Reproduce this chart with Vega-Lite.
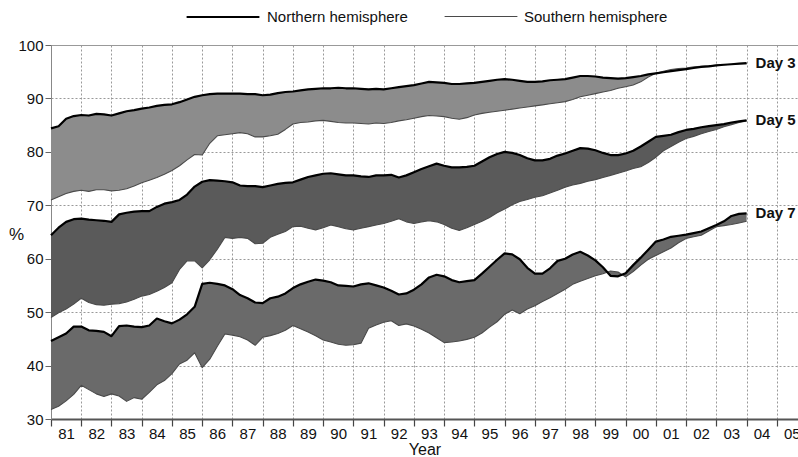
{
"$schema": "https://vega.github.io/schema/vega-lite/v6.json",
"width": 747,
"height": 374,
"autosize": {"type": "none"},
"padding": {"left": 51, "top": 45, "right": 0, "bottom": 38},
"background": "white",
"config": {"font": "Liberation Sans", "view": {"stroke": "#999", "strokeWidth": 1},
  "axisY": {"tickCount": 7, "labelFontSize": 15, "labelColor": "#111", "labelPadding": 2,
    "tickSize": 6, "tickColor": "#666", "domainColor": "#888", "domainWidth": 1,
    "grid": true, "gridColor": "#999", "gridDash": [2, 2], "gridWidth": 1,
    "titleAngle": 0, "titleAlign": "center", "titleBaseline": "middle", "titleX": -35, "titleY": 189,
    "titleFontSize": 17, "titleFontWeight": "normal", "titleColor": "#111"}},
"data": {"values": [
{"day":"Day 3","t":1981.0,"nh":84.4,"sh":71.0},{"day":"Day 3","t":1981.25,"nh":84.8,"sh":71.6},{"day":"Day 3","t":1981.5,"nh":86.2,"sh":72.2},{"day":"Day 3","t":1981.75,"nh":86.7,"sh":72.6},
{"day":"Day 3","t":1982.0,"nh":86.9,"sh":72.8},{"day":"Day 3","t":1982.25,"nh":86.8,"sh":72.6},{"day":"Day 3","t":1982.5,"nh":87.1,"sh":72.9},{"day":"Day 3","t":1982.75,"nh":87.0,"sh":72.9},
{"day":"Day 3","t":1983.0,"nh":86.8,"sh":72.7},{"day":"Day 3","t":1983.25,"nh":87.2,"sh":72.8},{"day":"Day 3","t":1983.5,"nh":87.6,"sh":73.1},{"day":"Day 3","t":1983.75,"nh":87.8,"sh":73.6},
{"day":"Day 3","t":1984.0,"nh":88.1,"sh":74.2},{"day":"Day 3","t":1984.25,"nh":88.3,"sh":74.7},{"day":"Day 3","t":1984.5,"nh":88.6,"sh":75.2},{"day":"Day 3","t":1984.75,"nh":88.8,"sh":75.8},
{"day":"Day 3","t":1985.0,"nh":88.9,"sh":76.5},{"day":"Day 3","t":1985.25,"nh":89.3,"sh":77.4},{"day":"Day 3","t":1985.5,"nh":89.8,"sh":78.5},{"day":"Day 3","t":1985.75,"nh":90.3,"sh":79.5},
{"day":"Day 3","t":1986.0,"nh":90.6,"sh":79.4},{"day":"Day 3","t":1986.25,"nh":90.8,"sh":81.6},{"day":"Day 3","t":1986.5,"nh":90.9,"sh":83.0},{"day":"Day 3","t":1986.75,"nh":90.9,"sh":83.2},
{"day":"Day 3","t":1987.0,"nh":90.9,"sh":83.4},{"day":"Day 3","t":1987.25,"nh":90.9,"sh":83.6},{"day":"Day 3","t":1987.5,"nh":90.8,"sh":83.4},{"day":"Day 3","t":1987.75,"nh":90.8,"sh":82.8},
{"day":"Day 3","t":1988.0,"nh":90.6,"sh":82.8},{"day":"Day 3","t":1988.25,"nh":90.7,"sh":83.0},{"day":"Day 3","t":1988.5,"nh":91.0,"sh":83.3},{"day":"Day 3","t":1988.75,"nh":91.2,"sh":84.2},
{"day":"Day 3","t":1989.0,"nh":91.3,"sh":85.2},{"day":"Day 3","t":1989.25,"nh":91.5,"sh":85.5},{"day":"Day 3","t":1989.5,"nh":91.7,"sh":85.6},{"day":"Day 3","t":1989.75,"nh":91.8,"sh":85.8},
{"day":"Day 3","t":1990.0,"nh":91.9,"sh":85.9},{"day":"Day 3","t":1990.25,"nh":91.9,"sh":85.7},{"day":"Day 3","t":1990.5,"nh":92.0,"sh":85.5},{"day":"Day 3","t":1990.75,"nh":91.9,"sh":85.4},
{"day":"Day 3","t":1991.0,"nh":91.9,"sh":85.4},{"day":"Day 3","t":1991.25,"nh":91.8,"sh":85.3},{"day":"Day 3","t":1991.5,"nh":91.7,"sh":85.2},{"day":"Day 3","t":1991.75,"nh":91.8,"sh":85.4},
{"day":"Day 3","t":1992.0,"nh":91.7,"sh":85.3},{"day":"Day 3","t":1992.25,"nh":91.9,"sh":85.5},{"day":"Day 3","t":1992.5,"nh":92.1,"sh":85.8},{"day":"Day 3","t":1992.75,"nh":92.3,"sh":86.0},
{"day":"Day 3","t":1993.0,"nh":92.5,"sh":86.3},{"day":"Day 3","t":1993.25,"nh":92.8,"sh":86.6},{"day":"Day 3","t":1993.5,"nh":93.1,"sh":86.8},{"day":"Day 3","t":1993.75,"nh":93.0,"sh":86.7},
{"day":"Day 3","t":1994.0,"nh":92.9,"sh":86.6},{"day":"Day 3","t":1994.25,"nh":92.7,"sh":86.3},{"day":"Day 3","t":1994.5,"nh":92.7,"sh":86.1},{"day":"Day 3","t":1994.75,"nh":92.8,"sh":86.4},
{"day":"Day 3","t":1995.0,"nh":92.9,"sh":86.9},{"day":"Day 3","t":1995.25,"nh":93.1,"sh":87.2},{"day":"Day 3","t":1995.5,"nh":93.3,"sh":87.4},{"day":"Day 3","t":1995.75,"nh":93.5,"sh":87.6},
{"day":"Day 3","t":1996.0,"nh":93.6,"sh":87.8},{"day":"Day 3","t":1996.25,"nh":93.5,"sh":88.0},{"day":"Day 3","t":1996.5,"nh":93.3,"sh":88.2},{"day":"Day 3","t":1996.75,"nh":93.1,"sh":88.4},
{"day":"Day 3","t":1997.0,"nh":93.1,"sh":88.6},{"day":"Day 3","t":1997.25,"nh":93.2,"sh":88.8},{"day":"Day 3","t":1997.5,"nh":93.4,"sh":89.0},{"day":"Day 3","t":1997.75,"nh":93.5,"sh":89.2},
{"day":"Day 3","t":1998.0,"nh":93.6,"sh":89.4},{"day":"Day 3","t":1998.25,"nh":93.9,"sh":89.8},{"day":"Day 3","t":1998.5,"nh":94.2,"sh":90.3},{"day":"Day 3","t":1998.75,"nh":94.2,"sh":90.6},
{"day":"Day 3","t":1999.0,"nh":94.1,"sh":90.9},{"day":"Day 3","t":1999.25,"nh":93.9,"sh":91.2},{"day":"Day 3","t":1999.5,"nh":93.8,"sh":91.5},{"day":"Day 3","t":1999.75,"nh":93.7,"sh":91.9},
{"day":"Day 3","t":2000.0,"nh":93.8,"sh":92.2},{"day":"Day 3","t":2000.25,"nh":94.0,"sh":92.5},{"day":"Day 3","t":2000.5,"nh":94.2,"sh":93.1},{"day":"Day 3","t":2000.75,"nh":94.5,"sh":94.0},
{"day":"Day 3","t":2001.0,"nh":94.7,"sh":94.7},{"day":"Day 3","t":2001.25,"nh":94.9,"sh":95.1},{"day":"Day 3","t":2001.5,"nh":95.1,"sh":95.4},{"day":"Day 3","t":2001.75,"nh":95.3,"sh":95.6},
{"day":"Day 3","t":2002.0,"nh":95.5,"sh":95.7},{"day":"Day 3","t":2002.25,"nh":95.7,"sh":95.9},{"day":"Day 3","t":2002.5,"nh":95.9,"sh":96.0},{"day":"Day 3","t":2002.75,"nh":96.0,"sh":96.1},
{"day":"Day 3","t":2003.0,"nh":96.2,"sh":96.2},{"day":"Day 3","t":2003.25,"nh":96.3,"sh":96.3},{"day":"Day 3","t":2003.5,"nh":96.4,"sh":96.4},{"day":"Day 3","t":2003.75,"nh":96.5,"sh":96.5},
{"day":"Day 3","t":2004.0,"nh":96.6,"sh":96.5},
{"day":"Day 5","t":1981.0,"nh":64.4,"sh":49.0},{"day":"Day 5","t":1981.25,"nh":65.8,"sh":49.9},{"day":"Day 5","t":1981.5,"nh":66.9,"sh":50.6},{"day":"Day 5","t":1981.75,"nh":67.4,"sh":51.5},
{"day":"Day 5","t":1982.0,"nh":67.5,"sh":52.6},{"day":"Day 5","t":1982.25,"nh":67.3,"sh":51.8},{"day":"Day 5","t":1982.5,"nh":67.2,"sh":51.4},{"day":"Day 5","t":1982.75,"nh":67.1,"sh":51.3},
{"day":"Day 5","t":1983.0,"nh":66.9,"sh":51.5},{"day":"Day 5","t":1983.25,"nh":68.3,"sh":51.6},{"day":"Day 5","t":1983.5,"nh":68.6,"sh":51.9},{"day":"Day 5","t":1983.75,"nh":68.8,"sh":52.4},
{"day":"Day 5","t":1984.0,"nh":68.9,"sh":53.0},{"day":"Day 5","t":1984.25,"nh":68.9,"sh":53.3},{"day":"Day 5","t":1984.5,"nh":69.7,"sh":53.9},{"day":"Day 5","t":1984.75,"nh":70.3,"sh":54.6},
{"day":"Day 5","t":1985.0,"nh":70.6,"sh":55.5},{"day":"Day 5","t":1985.25,"nh":71.0,"sh":58.0},{"day":"Day 5","t":1985.5,"nh":72.0,"sh":59.6},{"day":"Day 5","t":1985.75,"nh":73.5,"sh":59.6},
{"day":"Day 5","t":1986.0,"nh":74.4,"sh":58.3},{"day":"Day 5","t":1986.25,"nh":74.7,"sh":59.8},{"day":"Day 5","t":1986.5,"nh":74.6,"sh":61.8},{"day":"Day 5","t":1986.75,"nh":74.5,"sh":64.0},
{"day":"Day 5","t":1987.0,"nh":74.3,"sh":63.8},{"day":"Day 5","t":1987.25,"nh":73.7,"sh":64.0},{"day":"Day 5","t":1987.5,"nh":73.6,"sh":63.8},{"day":"Day 5","t":1987.75,"nh":73.6,"sh":62.8},
{"day":"Day 5","t":1988.0,"nh":73.4,"sh":62.9},{"day":"Day 5","t":1988.25,"nh":73.7,"sh":64.0},{"day":"Day 5","t":1988.5,"nh":74.0,"sh":64.6},{"day":"Day 5","t":1988.75,"nh":74.2,"sh":65.1},
{"day":"Day 5","t":1989.0,"nh":74.3,"sh":66.0},{"day":"Day 5","t":1989.25,"nh":74.8,"sh":66.1},{"day":"Day 5","t":1989.5,"nh":75.3,"sh":65.7},{"day":"Day 5","t":1989.75,"nh":75.6,"sh":65.4},
{"day":"Day 5","t":1990.0,"nh":75.9,"sh":65.8},{"day":"Day 5","t":1990.25,"nh":76.0,"sh":66.3},{"day":"Day 5","t":1990.5,"nh":75.8,"sh":66.0},{"day":"Day 5","t":1990.75,"nh":75.6,"sh":65.6},
{"day":"Day 5","t":1991.0,"nh":75.6,"sh":65.4},{"day":"Day 5","t":1991.25,"nh":75.4,"sh":65.7},{"day":"Day 5","t":1991.5,"nh":75.3,"sh":66.0},{"day":"Day 5","t":1991.75,"nh":75.6,"sh":66.3},
{"day":"Day 5","t":1992.0,"nh":75.6,"sh":66.6},{"day":"Day 5","t":1992.25,"nh":75.7,"sh":67.0},{"day":"Day 5","t":1992.5,"nh":75.2,"sh":67.5},{"day":"Day 5","t":1992.75,"nh":75.6,"sh":66.9},
{"day":"Day 5","t":1993.0,"nh":76.2,"sh":66.6},{"day":"Day 5","t":1993.25,"nh":76.8,"sh":66.9},{"day":"Day 5","t":1993.5,"nh":77.3,"sh":67.1},{"day":"Day 5","t":1993.75,"nh":77.8,"sh":66.9},
{"day":"Day 5","t":1994.0,"nh":77.4,"sh":66.4},{"day":"Day 5","t":1994.25,"nh":77.1,"sh":65.7},{"day":"Day 5","t":1994.5,"nh":77.1,"sh":65.3},{"day":"Day 5","t":1994.75,"nh":77.2,"sh":65.8},
{"day":"Day 5","t":1995.0,"nh":77.4,"sh":66.4},{"day":"Day 5","t":1995.25,"nh":78.2,"sh":67.0},{"day":"Day 5","t":1995.5,"nh":79.0,"sh":67.7},{"day":"Day 5","t":1995.75,"nh":79.6,"sh":68.6},
{"day":"Day 5","t":1996.0,"nh":80.0,"sh":69.3},{"day":"Day 5","t":1996.25,"nh":79.8,"sh":70.1},{"day":"Day 5","t":1996.5,"nh":79.4,"sh":70.7},{"day":"Day 5","t":1996.75,"nh":78.8,"sh":71.1},
{"day":"Day 5","t":1997.0,"nh":78.4,"sh":71.5},{"day":"Day 5","t":1997.25,"nh":78.4,"sh":71.8},{"day":"Day 5","t":1997.5,"nh":78.7,"sh":72.3},{"day":"Day 5","t":1997.75,"nh":79.3,"sh":72.8},
{"day":"Day 5","t":1998.0,"nh":79.7,"sh":73.4},{"day":"Day 5","t":1998.25,"nh":80.2,"sh":73.8},{"day":"Day 5","t":1998.5,"nh":80.7,"sh":74.1},{"day":"Day 5","t":1998.75,"nh":80.6,"sh":74.5},
{"day":"Day 5","t":1999.0,"nh":80.3,"sh":74.8},{"day":"Day 5","t":1999.25,"nh":79.8,"sh":75.2},{"day":"Day 5","t":1999.5,"nh":79.4,"sh":75.6},{"day":"Day 5","t":1999.75,"nh":79.4,"sh":76.0},
{"day":"Day 5","t":2000.0,"nh":79.7,"sh":76.4},{"day":"Day 5","t":2000.25,"nh":80.2,"sh":76.9},{"day":"Day 5","t":2000.5,"nh":81.0,"sh":77.2},{"day":"Day 5","t":2000.75,"nh":81.9,"sh":78.0},
{"day":"Day 5","t":2001.0,"nh":82.8,"sh":79.0},{"day":"Day 5","t":2001.25,"nh":83.0,"sh":80.2},{"day":"Day 5","t":2001.5,"nh":83.2,"sh":81.0},{"day":"Day 5","t":2001.75,"nh":83.7,"sh":81.8},
{"day":"Day 5","t":2002.0,"nh":84.1,"sh":82.5},{"day":"Day 5","t":2002.25,"nh":84.3,"sh":82.9},{"day":"Day 5","t":2002.5,"nh":84.6,"sh":83.4},{"day":"Day 5","t":2002.75,"nh":84.8,"sh":83.8},
{"day":"Day 5","t":2003.0,"nh":85.0,"sh":84.2},{"day":"Day 5","t":2003.25,"nh":85.2,"sh":84.7},{"day":"Day 5","t":2003.5,"nh":85.5,"sh":85.1},{"day":"Day 5","t":2003.75,"nh":85.7,"sh":85.5},
{"day":"Day 5","t":2004.0,"nh":85.9,"sh":85.8},
{"day":"Day 7","t":1981.0,"nh":44.6,"sh":31.8},{"day":"Day 7","t":1981.25,"nh":45.3,"sh":32.4},{"day":"Day 7","t":1981.5,"nh":46.0,"sh":33.4},{"day":"Day 7","t":1981.75,"nh":47.3,"sh":34.6},
{"day":"Day 7","t":1982.0,"nh":47.3,"sh":36.3},{"day":"Day 7","t":1982.25,"nh":46.6,"sh":35.5},{"day":"Day 7","t":1982.5,"nh":46.5,"sh":34.7},{"day":"Day 7","t":1982.75,"nh":46.3,"sh":34.2},
{"day":"Day 7","t":1983.0,"nh":45.5,"sh":34.7},{"day":"Day 7","t":1983.25,"nh":47.4,"sh":34.3},{"day":"Day 7","t":1983.5,"nh":47.5,"sh":33.3},{"day":"Day 7","t":1983.75,"nh":47.3,"sh":34.0},
{"day":"Day 7","t":1984.0,"nh":47.2,"sh":33.7},{"day":"Day 7","t":1984.25,"nh":47.5,"sh":35.0},{"day":"Day 7","t":1984.5,"nh":48.8,"sh":36.4},{"day":"Day 7","t":1984.75,"nh":48.3,"sh":37.2},
{"day":"Day 7","t":1985.0,"nh":47.9,"sh":38.5},{"day":"Day 7","t":1985.25,"nh":48.6,"sh":40.3},{"day":"Day 7","t":1985.5,"nh":49.6,"sh":41.0},{"day":"Day 7","t":1985.75,"nh":51.0,"sh":42.4},
{"day":"Day 7","t":1986.0,"nh":55.3,"sh":39.6},{"day":"Day 7","t":1986.25,"nh":55.5,"sh":41.2},{"day":"Day 7","t":1986.5,"nh":55.3,"sh":43.6},{"day":"Day 7","t":1986.75,"nh":55.0,"sh":45.9},
{"day":"Day 7","t":1987.0,"nh":54.3,"sh":45.7},{"day":"Day 7","t":1987.25,"nh":53.2,"sh":45.4},{"day":"Day 7","t":1987.5,"nh":52.6,"sh":44.8},{"day":"Day 7","t":1987.75,"nh":51.8,"sh":43.8},
{"day":"Day 7","t":1988.0,"nh":51.7,"sh":45.3},{"day":"Day 7","t":1988.25,"nh":52.6,"sh":45.6},{"day":"Day 7","t":1988.5,"nh":52.9,"sh":46.0},{"day":"Day 7","t":1988.75,"nh":53.5,"sh":46.6},
{"day":"Day 7","t":1989.0,"nh":54.5,"sh":47.5},{"day":"Day 7","t":1989.25,"nh":55.2,"sh":46.9},{"day":"Day 7","t":1989.5,"nh":55.7,"sh":46.3},{"day":"Day 7","t":1989.75,"nh":56.1,"sh":45.6},
{"day":"Day 7","t":1990.0,"nh":55.9,"sh":44.8},{"day":"Day 7","t":1990.25,"nh":55.6,"sh":44.4},{"day":"Day 7","t":1990.5,"nh":55.0,"sh":44.0},{"day":"Day 7","t":1990.75,"nh":54.9,"sh":43.8},
{"day":"Day 7","t":1991.0,"nh":54.8,"sh":43.9},{"day":"Day 7","t":1991.25,"nh":55.2,"sh":44.2},{"day":"Day 7","t":1991.5,"nh":55.4,"sh":47.0},{"day":"Day 7","t":1991.75,"nh":55.0,"sh":47.6},
{"day":"Day 7","t":1992.0,"nh":54.6,"sh":48.1},{"day":"Day 7","t":1992.25,"nh":54.0,"sh":48.4},{"day":"Day 7","t":1992.5,"nh":53.3,"sh":47.5},{"day":"Day 7","t":1992.75,"nh":53.5,"sh":47.8},
{"day":"Day 7","t":1993.0,"nh":54.2,"sh":47.4},{"day":"Day 7","t":1993.25,"nh":55.2,"sh":46.8},{"day":"Day 7","t":1993.5,"nh":56.5,"sh":46.1},{"day":"Day 7","t":1993.75,"nh":57.0,"sh":45.2},
{"day":"Day 7","t":1994.0,"nh":56.7,"sh":44.3},{"day":"Day 7","t":1994.25,"nh":56.0,"sh":44.4},{"day":"Day 7","t":1994.5,"nh":55.6,"sh":44.6},{"day":"Day 7","t":1994.75,"nh":55.8,"sh":44.9},
{"day":"Day 7","t":1995.0,"nh":56.0,"sh":45.3},{"day":"Day 7","t":1995.25,"nh":57.2,"sh":46.1},{"day":"Day 7","t":1995.5,"nh":58.5,"sh":47.2},{"day":"Day 7","t":1995.75,"nh":59.8,"sh":48.2},
{"day":"Day 7","t":1996.0,"nh":61.0,"sh":49.6},{"day":"Day 7","t":1996.25,"nh":60.8,"sh":50.4},{"day":"Day 7","t":1996.5,"nh":59.9,"sh":49.7},{"day":"Day 7","t":1996.75,"nh":58.3,"sh":50.6},
{"day":"Day 7","t":1997.0,"nh":57.2,"sh":51.2},{"day":"Day 7","t":1997.25,"nh":57.2,"sh":52.0},{"day":"Day 7","t":1997.5,"nh":58.2,"sh":52.7},{"day":"Day 7","t":1997.75,"nh":59.6,"sh":53.5},
{"day":"Day 7","t":1998.0,"nh":60.0,"sh":54.3},{"day":"Day 7","t":1998.25,"nh":60.8,"sh":55.2},{"day":"Day 7","t":1998.5,"nh":61.3,"sh":55.8},{"day":"Day 7","t":1998.75,"nh":60.6,"sh":56.3},
{"day":"Day 7","t":1999.0,"nh":59.7,"sh":56.8},{"day":"Day 7","t":1999.25,"nh":58.4,"sh":57.2},{"day":"Day 7","t":1999.5,"nh":56.8,"sh":57.7},{"day":"Day 7","t":1999.75,"nh":56.7,"sh":57.5},
{"day":"Day 7","t":2000.0,"nh":57.3,"sh":56.6},{"day":"Day 7","t":2000.25,"nh":58.8,"sh":57.6},{"day":"Day 7","t":2000.5,"nh":60.2,"sh":58.8},{"day":"Day 7","t":2000.75,"nh":61.7,"sh":59.9},
{"day":"Day 7","t":2001.0,"nh":63.2,"sh":60.6},{"day":"Day 7","t":2001.25,"nh":63.6,"sh":61.3},{"day":"Day 7","t":2001.5,"nh":64.1,"sh":62.0},{"day":"Day 7","t":2001.75,"nh":64.3,"sh":63.0},
{"day":"Day 7","t":2002.0,"nh":64.5,"sh":63.8},{"day":"Day 7","t":2002.25,"nh":64.8,"sh":64.1},{"day":"Day 7","t":2002.5,"nh":65.1,"sh":64.4},{"day":"Day 7","t":2002.75,"nh":65.7,"sh":65.2},
{"day":"Day 7","t":2003.0,"nh":66.3,"sh":66.0},{"day":"Day 7","t":2003.25,"nh":67.0,"sh":66.2},{"day":"Day 7","t":2003.5,"nh":68.0,"sh":66.4},{"day":"Day 7","t":2003.75,"nh":68.4,"sh":66.7},
{"day":"Day 7","t":2004.0,"nh":68.5,"sh":67.0}
]},
"encoding": {
  "x": {"field": "t", "type": "quantitative",
    "scale": {"domain": [1981, 2005.7], "nice": false, "zero": false},
    "axis": {"values": [1981,1982,1983,1984,1985,1986,1987,1988,1989,1990,1991,1992,1993,1994,1995,1996,1997,1998,1999,2000,2001,2002,2003,2004,2005],
      "labelExpr": "substring(toString(datum.value), 2, 4)",
      "labelOffset": 15, "labelFlush": false, "labelBound": false, "labelOverlap": false,
      "labelFontSize": 15, "labelColor": "#111", "labelPadding": 0,
      "tickSize": 7, "tickColor": "#444", "tickWidth": 1.2,
      "domainColor": "#555", "domainWidth": 2,
      "grid": true, "gridColor": "#999", "gridDash": [2, 2], "gridWidth": 1,
      "title": "Year", "titleFontSize": 16, "titleFontWeight": "normal", "titleColor": "#111", "titlePadding": 0}}
},
"layer": [
  {"mark": {"type": "area", "fillOpacity": 1},
   "encoding": {
     "y": {"field": "nh", "type": "quantitative", "title": "%", "scale": {"domain": [30, 100], "nice": false, "zero": false}},
     "y2": {"field": "sh"},
     "fill": {"field": "day", "type": "nominal", "scale": {"domain": ["Day 3", "Day 5", "Day 7"], "range": ["#8c8c8c", "#5a5a5a", "#6a6a6a"]}, "legend": null}
   }},
  {"transform": [{"fold": ["sh", "nh"], "as": ["hemi", "value"]}],
   "mark": {"type": "line", "strokeJoin": "round"},
   "encoding": {
     "y": {"field": "value", "type": "quantitative", "title": "%", "scale": {"domain": [30, 100], "nice": false, "zero": false}},
     "detail": {"field": "day", "type": "nominal"},
     "stroke": {"field": "hemi", "type": "nominal", "scale": {"domain": ["nh", "sh"], "range": ["#000000", "#4a4a4a"]},
       "legend": {"orient": "none", "legendX": 134, "legendY": -66, "direction": "horizontal", "title": null,
         "symbolType": "stroke", "symbolSize": 5300, "symbolStrokeWidth": 2.5,
         "labelFontSize": 15, "labelColor": "#111", "labelOffset": 6, "columnPadding": 34,
         "labelExpr": "datum.value == 'nh' ? 'Northern hemisphere' : 'Southern hemisphere'",
         "encode": {"symbols": {"update": {"stroke": {"signal": "datum.value == 'nh' ? '#000000' : '#999999'"}, "strokeWidth": {"signal": "datum.value == 'nh' ? 3 : 2.2"}}}}}},
     "strokeWidth": {"field": "hemi", "type": "nominal", "scale": {"domain": ["nh", "sh"], "range": [2.2, 1.1]}, "legend": null}
   }},
  {"transform": [{"filter": "datum.t == 2004"}],
   "mark": {"type": "text", "align": "left", "baseline": "middle", "dx": 9, "fontWeight": "bold", "fontSize": 15, "color": "#111"},
   "encoding": {
     "y": {"field": "nh", "type": "quantitative", "title": "%", "scale": {"domain": [30, 100], "nice": false, "zero": false}},
     "text": {"field": "day", "type": "nominal"}
   }}
]
}
